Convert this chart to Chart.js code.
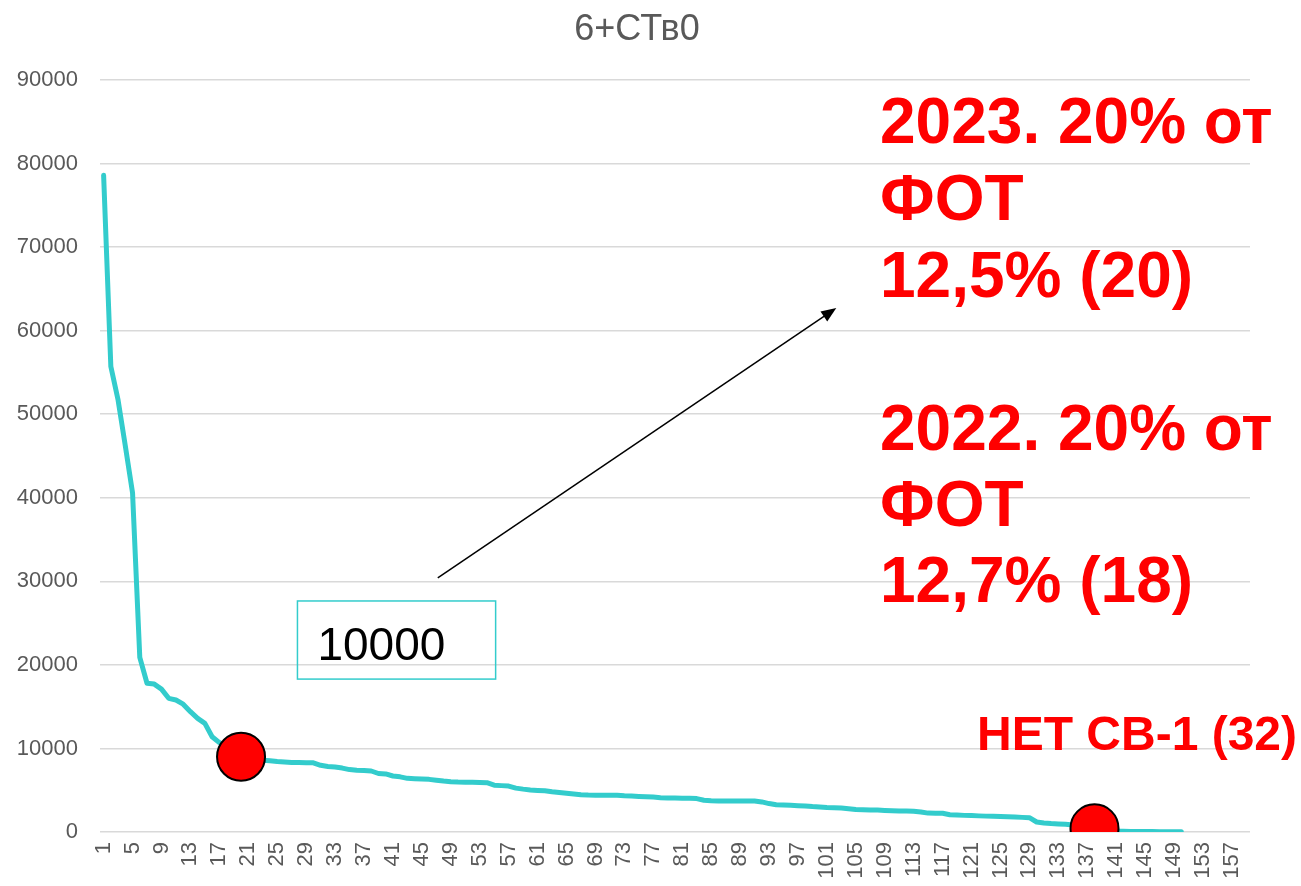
<!DOCTYPE html>
<html>
<head>
<meta charset="utf-8">
<script src="https://cdn.jsdelivr.net/npm/chart.js@4"></script>
<style>
  html, body { margin: 0; padding: 0; background: #fff; }
  #wrap { width: 1301px; height: 886px; }
</style>
</head>
<body>
<div id="wrap"><canvas id="chart" width="1301" height="886"></canvas></div>
<script>
const FONT = "'Liberation Sans', Arial, sans-serif";

// categories 1..159 (axis shows every 4th)
const categories = Array.from({ length: 159 }, (_, i) => String(i + 1));

// sorted values (points 1..150)
const values = [
  78600, 55700, 51700, 46200, 40600, 20900, 17800, 17700, 17100, 16000,
  15800, 15300, 14400, 13600, 13000, 11400, 10700, 10300, 9900, 9300,
  8900, 8750, 8600, 8520, 8430, 8380, 8330, 8310, 8300, 8280,
  7980, 7850, 7780, 7650, 7470, 7400, 7350, 7300, 7000, 6950,
  6700, 6600, 6420, 6370, 6330, 6300, 6200, 6100, 6020, 5980,
  5960, 5940, 5920, 5900, 5600, 5550, 5500, 5250, 5130, 5030,
  4980, 4940, 4820, 4720, 4630, 4550, 4460, 4420, 4400, 4400,
  4390, 4390, 4330, 4300, 4260, 4230, 4180, 4110, 4080, 4060,
  4040, 4030, 4000, 3800, 3750, 3720, 3710, 3710, 3710, 3710,
  3700, 3600, 3400, 3260, 3220, 3190, 3150, 3120, 3050, 3000,
  2940, 2900, 2870, 2780, 2680, 2660, 2640, 2620, 2580, 2550,
  2520, 2500, 2480, 2400, 2260, 2250, 2240, 2060, 2030, 1990,
  1960, 1930, 1900, 1880, 1850, 1830, 1800, 1750, 1710, 1200,
  1080, 1010, 960, 920, 850, 700, 550, 400, 250, 100,
  90, 80, 70, 60, 50, 50, 40, 40, 30, 30
];

// highlighted points (category, value)
const markCats = ['20', '138'];
const markValues = [9000, 440];

// y axis
const yMax = 90000;
const yStep = 10000;

// annotations
const titleText = '6+СТв0';
const boxText = '10000';
const noteLines2023 = ['2023. 20% от', 'ФОТ', '12,5% (20)'];
const noteLines2022 = ['2022. 20% от', 'ФОТ', '12,7% (18)'];
const noteNoSv = 'НЕТ СВ-1 (32)';

const markData = categories.map(c => {
  const k = markCats.indexOf(c);
  return k >= 0 ? markValues[k] : null;
});

// extra drawing: title, arrow, text box, red notes
const annotations = {
  id: 'annotations',
  afterDraw(chart) {
    const ctx = chart.ctx;
    const x = chart.scales.x, y = chart.scales.y;
    const px = i => x.getPixelForValue(i - 1);
    ctx.save();

    // title
    ctx.fillStyle = '#595959';
    ctx.font = '36px ' + FONT;
    ctx.textAlign = 'center';
    ctx.textBaseline = 'alphabetic';
    ctx.fillText(titleText, 637, 40);

    // arrow
    const x1 = px(47.2), y1 = y.getPixelForValue(30400);
    const x2 = px(102.3), y2 = y.getPixelForValue(62700);
    const ang = Math.atan2(y2 - y1, x2 - x1);
    ctx.strokeStyle = '#000';
    ctx.lineWidth = 1.5;
    ctx.beginPath();
    ctx.moveTo(x1, y1);
    ctx.lineTo(x2 - 10 * Math.cos(ang), y2 - 10 * Math.sin(ang));
    ctx.stroke();
    ctx.fillStyle = '#000';
    ctx.beginPath();
    ctx.moveTo(x2, y2);
    ctx.lineTo(x2 - 15 * Math.cos(ang) + 6 * Math.sin(ang), y2 - 15 * Math.sin(ang) - 6 * Math.cos(ang));
    ctx.lineTo(x2 - 15 * Math.cos(ang) - 6 * Math.sin(ang), y2 - 15 * Math.sin(ang) + 6 * Math.cos(ang));
    ctx.closePath();
    ctx.fill();

    // text box
    const bx1 = px(27.8), bx2 = px(55.2);
    const by1 = y.getPixelForValue(27650), by2 = y.getPixelForValue(18300);
    ctx.strokeStyle = '#33cccc';
    ctx.lineWidth = 1.5;
    ctx.strokeRect(bx1, by1, bx2 - bx1, by2 - by1);
    ctx.fillStyle = '#000';
    ctx.font = '46px ' + FONT;
    ctx.textAlign = 'left';
    ctx.fillText(boxText, bx1 + 20, by1 + 59);

    // red notes
    ctx.fillStyle = '#ff0000';
    ctx.font = 'bold 64px ' + FONT;
    noteLines2023.forEach((t, i) => ctx.fillText(t, 880, 143 + i * 77));
    noteLines2022.forEach((t, i) => ctx.fillText(t, 880, 450 + i * 76));
    ctx.font = 'bold 48px ' + FONT;
    ctx.fillText(noteNoSv, 977, 750);

    ctx.restore();
  }
};

new Chart(document.getElementById('chart'), {
  type: 'line',
  data: {
    labels: categories,
    datasets: [
      {
        data: values,
        borderColor: '#33cccc',
        borderWidth: 5,
        pointRadius: 0,
        tension: 0,
        borderCapStyle: 'round',
        borderJoinStyle: 'round',
        order: 2
      },
      {
        data: markData,
        showLine: false,
        pointRadius: 24,
        pointBackgroundColor: '#ff0000',
        pointBorderColor: '#000',
        pointBorderWidth: 2,
        order: 1
      }
    ]
  },
  options: {
    responsive: false,
    animation: false,
    devicePixelRatio: 1,
    layout: { padding: { left: 0, right: 51, top: 80, bottom: 0 } },
    plugins: {
      legend: { display: false },
      tooltip: { enabled: false },
      title: { display: false }
    },
    scales: {
      x: {
        offset: true,
        grid: { display: false, drawTicks: false },
        border: { display: false },
        afterFit: axis => { axis.height = 54; },
        ticks: {
          autoSkip: false,
          minRotation: 90,
          maxRotation: 90,
          padding: 10,
          color: '#595959',
          font: { family: FONT, size: 22 },
          callback: (v, i) => (i % 4 === 0 ? categories[i] : '')
        }
      },
      y: {
        min: 0,
        max: yMax,
        grid: { color: '#d9d9d9', lineWidth: 1.5, drawTicks: false },
        border: { display: false },
        afterFit: axis => { axis.width = 100; },
        ticks: {
          stepSize: yStep,
          padding: 22,
          color: '#595959',
          font: { family: FONT, size: 22 },
          callback: v => String(v)
        }
      }
    }
  },
  plugins: [annotations]
});
</script>
</body>
</html>
